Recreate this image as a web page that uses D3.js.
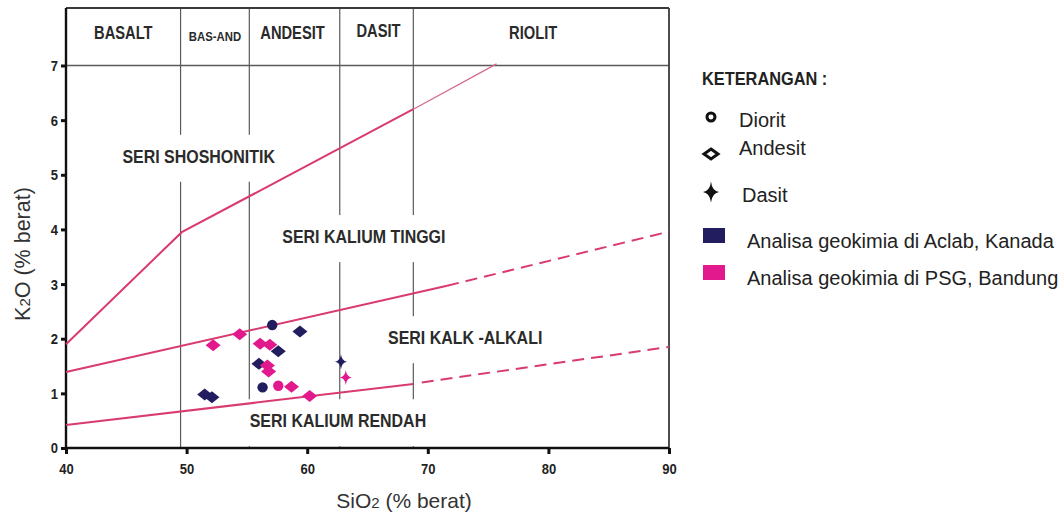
<!DOCTYPE html>
<html>
<head>
<meta charset="utf-8">
<script src="https://cdn.jsdelivr.net/npm/d3@7"></script>
<style>
  body { margin: 0; background: #fff; }
  svg { display: block; }
</style>
</head>
<body>
<svg id="chart" width="1061" height="518"></svg>
<script>
// Rock-name fields along the SiO2 axis
const rockFields = ["BASALT", "BAS-AND", "ANDESIT", "DASIT", "RIOLIT"];
const fieldLimits = [40, 49.5, 55.2, 62.7, 68.8, 90];

// Axis ticks
const xTicks = [40, 50, 60, 70, 80, 90];
const yTicks = [0, 1, 2, 3, 4, 5, 6, 7];

// Series names (fields of the K2O vs SiO2 diagram)
const seriesNames = ["SERI SHOSHONITIK", "SERI KALIUM TINGGI", "SERI KALK -ALKALI", "SERI KALIUM RENDAH"];

// Boundary lines between the series
const shoshoniticSiO2 = [40, 49.6, 68.8];
const shoshoniticK2O = [1.9, 3.95, 6.2];
const shoshoniticExtSiO2 = [68.8, 75.7];
const shoshoniticExtK2O = [6.2, 7.03];
const highKSiO2 = [40, 71.6];
const highKK2O = [1.39, 2.97];
const highKDashSiO2 = [71.6, 90];
const highKDashK2O = [2.97, 3.96];
const lowKSiO2 = [40, 68.8];
const lowKK2O = [0.42, 1.17];
const lowKDashSiO2 = [69.5, 90];
const lowKDashK2O = [1.2, 1.85];

// Samples analysed at Aclab, Kanada
const aclabRock = ["Diorit", "Andesit", "Andesit", "Andesit", "Diorit", "Andesit", "Andesit", "Dasit"];
const aclabSiO2 = [57.1, 59.4, 57.6, 56.0, 56.3, 51.5, 52.1, 62.8];
const aclabK2O = [2.25, 2.13, 1.77, 1.54, 1.11, 0.98, 0.93, 1.58];

// Samples analysed at PSG, Bandung
const psgRock = ["Andesit", "Andesit", "Andesit", "Andesit", "Andesit", "Andesit", "Diorit", "Andesit", "Andesit", "Dasit"];
const psgSiO2 = [52.2, 54.4, 56.1, 56.9, 56.7, 56.8, 57.6, 58.7, 60.2, 63.2];
const psgK2O = [1.88, 2.08, 1.91, 1.89, 1.51, 1.40, 1.14, 1.12, 0.95, 1.29];

// Legend entries
const symbolLegend = ["Diorit", "Andesit", "Dasit"];
const labLegend = ["Analisa geokimia di Aclab, Kanada", "Analisa geokimia di PSG, Bandung"];

// ---- styling ----
const NAVY = "#221d5f";
const PINK = "#e2198c";
const LINE = "#d93a6f";
const GRID = "#5a5a5a";
const SANS = "'Liberation Sans', Arial, sans-serif";

// Squeeze bold labels horizontally to get a condensed face
function condense(sel, f) {
  sel.each(function () {
    const w = this.getComputedTextLength();
    d3.select(this).attr("textLength", w * f).attr("lengthAdjust", "spacingAndGlyphs");
  });
}

const svg = d3.select("#chart");
const plotLeft = 66, plotRight = 669, plotBottom = 448, frameTop = 8;

const x = d3.scaleLinear().domain([40, 90]).range([plotLeft, plotRight]);
const y = d3.scaleLinear().domain([0, 7]).range([plotBottom, 65.5]);

const zip = (xs, ys) => xs.map((v, i) => [v, ys[i]]);
const line = d3.line().x(d => x(d[0])).y(d => y(d[1]));

// Field dividers (full height, including header band)
const inner = fieldLimits.slice(1, -1);
svg.append("g").selectAll("line").data(inner).join("line")
  .attr("x1", d => x(d)).attr("x2", d => x(d))
  .attr("y1", frameTop).attr("y2", plotBottom)
  .attr("stroke", GRID).attr("stroke-width", 1.2);

// Header band bottom (K2O = 7) and frame
svg.append("line").attr("x1", plotLeft).attr("x2", plotRight)
  .attr("y1", y(7)).attr("y2", y(7)).attr("stroke", GRID).attr("stroke-width", 1.4);
svg.append("line").attr("x1", plotLeft).attr("x2", plotRight)
  .attr("y1", frameTop).attr("y2", frameTop).attr("stroke", "#3a3a3a").attr("stroke-width", 2.2);
svg.append("line").attr("x1", plotRight).attr("x2", plotRight)
  .attr("y1", frameTop).attr("y2", plotBottom).attr("stroke", "#3a3a3a").attr("stroke-width", 1.8);
svg.append("line").attr("x1", plotLeft).attr("x2", plotLeft)
  .attr("y1", frameTop).attr("y2", plotBottom).attr("stroke", "#111").attr("stroke-width", 2.4);

// Rock-name headers
const headerOffset = [0, 0, -2, 2, -8];
const headerSize = [17.5, 13.5, 17.5, 17.5, 17.5];
const headerBase = [39, 41, 39, 37, 39];
svg.append("g").selectAll("text").data(rockFields).join("text")
  .attr("x", (d, i) => x((fieldLimits[i] + fieldLimits[i + 1]) / 2) + headerOffset[i])
  .attr("y", (d, i) => headerBase[i])
  .attr("text-anchor", "middle")
  .attr("font-family", SANS).attr("font-weight", "bold")
  .attr("font-size", (d, i) => headerSize[i]).attr("fill", "#2a2a2a")
  .text(d => d)
  .call(condense, 0.84);

// Series labels with a white backing that breaks the divider lines
const labelAt = [[51.0, 5.22], [64.7, 3.75], [73.1, 1.90], [62.55, 0.38]];
const labelG = svg.append("g");
seriesNames.forEach((name, i) => {
  const g = labelG.append("g");
  const t = g.append("text")
    .attr("x", x(labelAt[i][0])).attr("y", y(labelAt[i][1]))
    .attr("text-anchor", "middle")
    .attr("font-family", SANS).attr("font-weight", "bold")
    .attr("font-size", 19).attr("fill", "#2b2b2b")
    .text(name)
    .call(condense, 0.84);
  const b = t.node().getBBox();
  g.insert("rect", "text")
    .attr("x", b.x - 2).attr("y", b.y - 11)
    .attr("width", b.width + 4).attr("height", b.height + 26)
    .attr("fill", "#fff");
});

// Boundary lines
const bounds = svg.append("g").attr("fill", "none");
bounds.append("path").datum(zip(shoshoniticSiO2, shoshoniticK2O)).attr("d", line)
  .attr("stroke", LINE).attr("stroke-width", 2);
bounds.append("path").datum(zip(shoshoniticExtSiO2, shoshoniticExtK2O)).attr("d", line)
  .attr("stroke", "#d46a90").attr("stroke-width", 1.3);
bounds.append("path").datum(zip(highKSiO2, highKK2O)).attr("d", line)
  .attr("stroke", LINE).attr("stroke-width", 2);
bounds.append("path").datum(zip(highKDashSiO2, highKDashK2O)).attr("d", line)
  .attr("stroke", LINE).attr("stroke-width", 2).attr("stroke-dasharray", "12 7");
bounds.append("path").datum(zip(lowKSiO2, lowKK2O)).attr("d", line)
  .attr("stroke", LINE).attr("stroke-width", 2);
bounds.append("path").datum(zip(lowKDashSiO2, lowKDashK2O)).attr("d", line)
  .attr("stroke", LINE).attr("stroke-width", 2).attr("stroke-dasharray", "12 7");

// Symbol paths
function diamondPath(w, h) {
  return `M0,${-h / 2}L${w / 2},0L0,${h / 2}L${-w / 2},0Z`;
}
function starPath(w, h) {
  const a = w / 2, b = h / 2, c = 0.12;
  return `M0,${-b}Q${a * c},${-b * c} ${a},0Q${a * c},${b * c} 0,${b}` +
         `Q${-a * c},${b * c} ${-a},0Q${-a * c},${-b * c} 0,${-b}Z`;
}
function symbolFor(rock) {
  if (rock === "Diorit") return d3.symbol(d3.symbolCircle, 85)();
  if (rock === "Dasit") return starPath(12, 15);
  return diamondPath(15, 12);
}

// Sample points
function drawSamples(rocks, sio2, k2o, color) {
  svg.append("g").selectAll("path")
    .data(rocks.map((r, i) => ({ rock: r, s: sio2[i], k: k2o[i] })))
    .join("path")
    .attr("transform", d => `translate(${x(d.s)},${y(d.k)})`)
    .attr("d", d => symbolFor(d.rock))
    .attr("fill", color);
}
drawSamples(aclabRock, aclabSiO2, aclabK2O, NAVY);
drawSamples(psgRock, psgSiO2, psgK2O, PINK);

// Axes
const yAxis = svg.append("g").attr("transform", `translate(${plotLeft},0)`)
  .call(d3.axisLeft(y).tickValues(yTicks).tickSize(5).tickPadding(3).tickFormat(d3.format("d")));
const xAxis = svg.append("g").attr("transform", `translate(0,${plotBottom})`)
  .call(d3.axisBottom(x).tickValues(xTicks).tickSize(6).tickPadding(9).tickFormat(d3.format("d")));
[yAxis, xAxis].forEach(a => {
  a.select(".domain").attr("stroke", "#111").attr("stroke-width", 2.6);
  a.selectAll(".tick line").attr("stroke", "#111").attr("stroke-width", 3);
  a.selectAll(".tick text").attr("font-family", SANS).attr("font-weight", "bold")
    .attr("font-size", 15.5).attr("fill", "#222")
    .call(condense, 0.84);
});
yAxis.select(".domain").remove();
xAxis.select(".domain").attr("d", `M${plotLeft},0H${plotRight}`);

// Axis titles
const xt = svg.append("text").attr("x", 404).attr("y", 508)
  .attr("text-anchor", "middle").attr("font-family", SANS).attr("font-size", 21).attr("fill", "#333");
xt.append("tspan").text("SiO");
xt.append("tspan").attr("font-size", 15).text("2");
xt.append("tspan").text(" (% berat)");

const yt = svg.append("text").attr("transform", `translate(30,${y(3.55)}) rotate(-90)`)
  .attr("text-anchor", "middle").attr("font-family", SANS).attr("font-size", 21.5).attr("fill", "#333");
yt.append("tspan").text("K");
yt.append("tspan").attr("font-size", 15).text("2");
yt.append("tspan").text("O (% berat)");

// Legend
const lg = svg.append("g");
lg.append("text").attr("x", 702).attr("y", 85)
  .attr("font-family", SANS).attr("font-weight", "bold").attr("font-size", 19).attr("fill", "#222")
  .text("KETERANGAN :")
  .call(condense, 0.86);
const legendSym = [
  { path: d3.symbol(d3.symbolCircle, 50)(), fill: "none", stroke: "#111", cy: 117, ty: 127, tx: 739 },
  { path: diamondPath(14, 10), fill: "none", stroke: "#111", cy: 154, ty: 155, tx: 739 },
  { path: starPath(16, 21), fill: "#111", stroke: "none", cy: 192, ty: 202, tx: 742 }
];
symbolLegend.forEach((name, i) => {
  const s = legendSym[i];
  lg.append("path").attr("transform", `translate(711,${s.cy})`).attr("d", s.path)
    .attr("fill", s.fill).attr("stroke", s.stroke).attr("stroke-width", 3);
  lg.append("text").attr("x", s.tx).attr("y", s.ty)
    .attr("font-family", SANS).attr("font-size", 20).attr("fill", "#222").text(name);
});
const labColors = [NAVY, PINK];
const labRows = [228, 265];
labLegend.forEach((name, i) => {
  lg.append("rect").attr("x", 703).attr("y", labRows[i]).attr("width", 22).attr("height", 15)
    .attr("fill", labColors[i]);
  lg.append("text").attr("x", 747).attr("y", labRows[i] + 20)
    .attr("font-family", SANS).attr("font-size", 20).attr("fill", "#222").text(name);
});
</script>
</body>
</html>
